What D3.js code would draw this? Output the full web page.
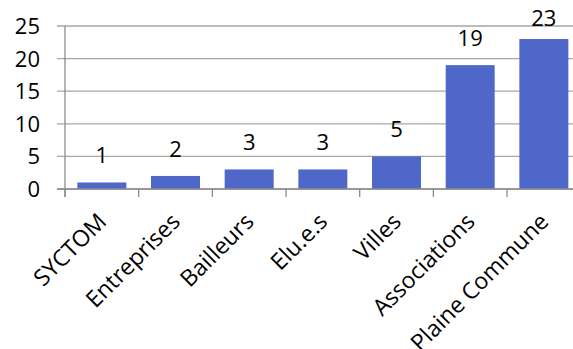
<!DOCTYPE html>
<html><head><meta charset="utf-8">
<script src="https://cdn.jsdelivr.net/npm/d3@7"></script>
<style>body{margin:0;background:#fff}svg{display:block}text{font-family:"Open Sans",sans-serif;fill:#000}</style>
</head><body>
<svg id="c" width="573" height="349"></svg>
<script>
const categories = ["SYCTOM","Entreprises","Bailleurs","Elu.e.s","Villes","Associations","Plaine Commune"];
const values = [1,2,3,3,5,19,23];
const yTicks = [0,5,10,15,20,25];

const svg = d3.select("#c");
const x0 = 65, step = 73.67;
const x = d3.scaleBand().domain(categories).range([x0, x0 + step*categories.length]).paddingInner(0.335).paddingOuter(0.1675);
const y = d3.scaleLinear().domain([0,25]).range([189,26]);

svg.append("g").selectAll("line").data(yTicks).join("line")
  .attr("x1",57).attr("x2",573).attr("y1",d=>y(d)).attr("y2",d=>y(d))
  .attr("stroke","#a6a6a6").attr("stroke-width",1.3);
svg.append("line").attr("x1",x0).attr("x2",x0).attr("y1",y(25)).attr("y2",197).attr("stroke","#8c8c8c").attr("stroke-width",1.3);
const tickXs = d3.range(categories.length+1).map(i=>x0+i*step);
svg.append("g").selectAll("line").data(tickXs).join("line")
  .attr("x1",d=>d).attr("x2",d=>d).attr("y1",189).attr("y2",197).attr("stroke","#8c8c8c").attr("stroke-width",1.3);

svg.append("g").selectAll("rect").data(values).join("rect")
  .attr("x",(d,i)=>x(categories[i])).attr("width",x.bandwidth())
  .attr("y",d=>y(d)).attr("height",d=>y(0)-y(d))
  .attr("fill","#4f67c8");
svg.append("line").attr("x1",57).attr("x2",573).attr("y1",189).attr("y2",189).attr("stroke","#8c8c8c").attr("stroke-width",1.5);

svg.append("g").selectAll("text").data(yTicks).join("text")
  .attr("x",40).attr("y",d=>y(d)).attr("dy","0.36em").attr("text-anchor","end")
  .attr("font-size",22).text(d=>d);

svg.append("g").selectAll("text").data(values).join("text")
  .attr("x",(d,i)=>x(categories[i])+x.bandwidth()/2)
  .attr("y",d=>Math.max(y(d)-19, 26)).attr("text-anchor","middle")
  .attr("font-size",22).text(d=>d);

svg.append("g").selectAll("text").data(categories).join("text")
  .attr("transform",d=>`translate(${x(d)+x.bandwidth()/2+6},223) rotate(-45)`)
  .attr("text-anchor","end").attr("font-size",23).text(d=>d);
</script>
</body></html>
